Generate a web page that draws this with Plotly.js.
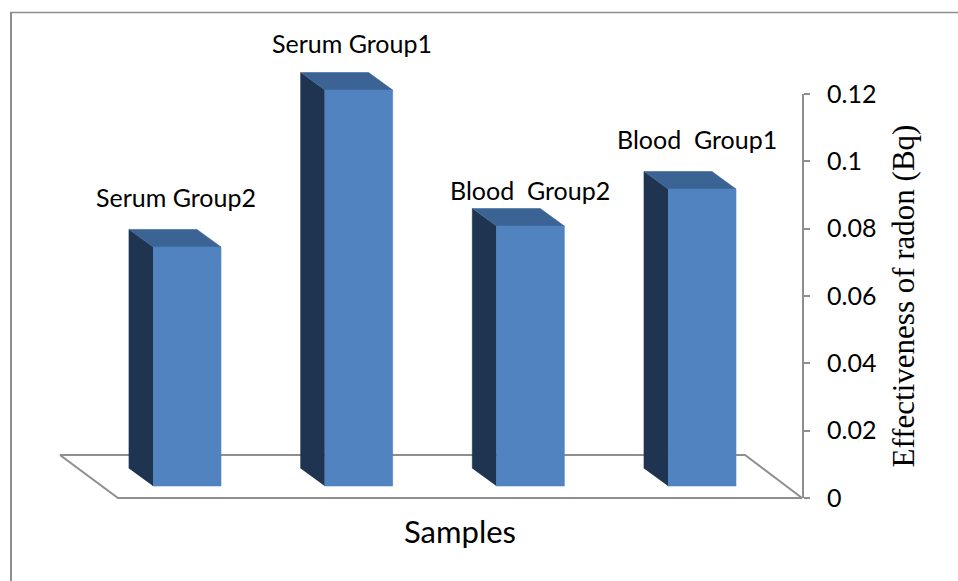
<!DOCTYPE html>
<html>
<head>
<meta charset="utf-8">
<script src="https://cdn.plot.ly/plotly-3.0.1.min.js"></script>
<style>
  html, body { margin: 0; padding: 0; background: #ffffff; }
  #chart { width: 958px; height: 581px; }
</style>
</head>
<body>
<div id="chart"></div>
<script>
// Radon effectiveness per sample group
const categories = ['Serum Group2', 'Serum Group1', 'Blood  Group2', 'Blood  Group1'];
const radonValues = [0.071, 0.1176, 0.0772, 0.0882];
const yTickVals = [0, 0.02, 0.04, 0.06, 0.08, 0.1, 0.12];
const yTickText = ['0', '0.02', '0.04', '0.06', '0.08', '0.1', '0.12'];

// Projection of the pseudo-3D columns (x in category units, y in value units)
const HALF_W = 0.198;      // half width of a column's front face
const DEPTH_X = 0.140;     // receding offset of the column depth
const DEPTH_Y = 0.0052;
const BASE_Y = 0.00356;    // column front base sits slightly behind the floor edge

const COLORS = { front: '#5083c0', side: '#1f3450', top: '#3b6495', floor: '#8e8e8e' };

const xs = categories.map((c, i) => i);

function facePath(pointsFn) {
  const px = [], py = [];
  xs.forEach((x, i) => {
    pointsFn(x, radonValues[i]).forEach(p => { px.push(p[0]); py.push(p[1]); });
    px.push(null); py.push(null);
  });
  return { px, py };
}

const sideFaces = facePath((x, v) => [
  [x - HALF_W, BASE_Y], [x - HALF_W, BASE_Y + v],
  [x - HALF_W - DEPTH_X, BASE_Y + v + DEPTH_Y], [x - HALF_W - DEPTH_X, BASE_Y + DEPTH_Y]
]);
const topFaces = facePath((x, v) => [
  [x - HALF_W, BASE_Y + v], [x + HALF_W, BASE_Y + v],
  [x + HALF_W - DEPTH_X, BASE_Y + v + DEPTH_Y], [x - HALF_W - DEPTH_X, BASE_Y + v + DEPTH_Y]
]);
const frontFaces = facePath((x, v) => [
  [x - HALF_W, BASE_Y], [x + HALF_W, BASE_Y],
  [x + HALF_W, BASE_Y + v], [x - HALF_W, BASE_Y + v]
]);

// Floor plane under the columns
const lastX = xs[xs.length - 1];
const floorFL = xs[0] - 0.402, floorFR = lastX + 0.5825;
const floorBL = xs[0] - 0.740, floorBR = lastX + 0.2504;
const floorDepthY = 0.01277;

function faceTrace(path, color) {
  return {
    type: 'scatter', mode: 'lines', x: path.px, y: path.py,
    fill: 'toself', fillcolor: color,
    line: { color: color, width: 0.6 },
    hoverinfo: 'skip', showlegend: false, xaxis: 'x', yaxis: 'y'
  };
}

const traces = [
  {
    type: 'scatter', mode: 'lines',
    x: [floorBL, floorBR, floorFR, floorFL, floorBL],
    y: [floorDepthY, floorDepthY, 0, 0, floorDepthY],
    fill: 'toself', fillcolor: '#ffffff',
    line: { color: COLORS.floor, width: 2 },
    hoverinfo: 'skip', showlegend: false
  },
  faceTrace(sideFaces, COLORS.side),
  faceTrace(topFaces, COLORS.top),
  faceTrace(frontFaces, COLORS.front),
  // carries the visible value axis
  { type: 'scatter', mode: 'markers', x: [null], y: [null], xaxis: 'x', yaxis: 'y2',
    hoverinfo: 'skip', showlegend: false }
];

const W = 958, H = 581;
const PX_PER_CAT = 171.67, CAT0_PX = 187;
const PX_PER_UNIT = 3366.7, ZERO_PX = 498;

const labelNudgeY = [32, 30, 19, 33];
const labelNudgeX = [1, 5, 12, 7];

const annotations = categories.map((c, i) => ({
  x: xs[i] - DEPTH_X / 2, y: BASE_Y + radonValues[i] + DEPTH_Y,
  xref: 'x', yref: 'y',
  text: c.replace(/  /g, ' \u00a0'),
  showarrow: false, xanchor: 'center', yanchor: 'middle',
  xshift: labelNudgeX[i], yshift: labelNudgeY[i],
  font: { family: 'Lato, sans-serif', size: 25, color: '#000000' }
}));
annotations.push({
  x: 459.5 / W, y: 1 - 531 / H, xref: 'paper', yref: 'paper',
  text: 'Samples', showarrow: false, xanchor: 'center', yanchor: 'middle',
  font: { family: 'Lato, sans-serif', size: 31, color: '#000000' }
});

const layout = {
  width: W, height: H,
  margin: { l: 0, r: 0, t: 0, b: 0, pad: 0 },
  paper_bgcolor: '#ffffff', plot_bgcolor: 'rgba(0,0,0,0)',
  showlegend: false, hovermode: false,
  xaxis: {
    range: [-CAT0_PX / PX_PER_CAT, (W - CAT0_PX) / PX_PER_CAT],
    visible: false, fixedrange: true
  },
  yaxis: {
    range: [-(H - ZERO_PX) / PX_PER_UNIT, ZERO_PX / PX_PER_UNIT],
    visible: false, fixedrange: true
  },
  yaxis2: {
    anchor: 'free', position: 803 / W, side: 'right',
    domain: [(H - ZERO_PX) / H, (H - ZERO_PX + 0.12 * PX_PER_UNIT) / H],
    range: [0, 0.12], fixedrange: true,
    showline: true, linecolor: COLORS.floor, linewidth: 2,
    ticks: 'outside', ticklen: 6, tickwidth: 2, tickcolor: COLORS.floor,
    ticklabelstandoff: 12,
    tickvals: yTickVals, ticktext: yTickText,
    tickfont: { family: 'Lato, sans-serif', size: 25, color: '#000000' },
    showgrid: false, zeroline: false,
    title: {
      text: 'Effectiveness of radon (Bq)', standoff: 16,
      font: { family: '"Liberation Serif", "Times New Roman", serif', size: 31, color: '#000000' }
    }
  },
  annotations: annotations,
  shapes: [
    { type: 'line', xref: 'paper', yref: 'paper', x0: 11 / W, x1: 11 / W, y0: 0, y1: 1 - 12 / H,
      line: { color: '#8e8e8e', width: 2 } },
    { type: 'line', xref: 'paper', yref: 'paper', x0: 10 / W, x1: 1, y0: 1 - 12.5 / H, y1: 1 - 12.5 / H,
      line: { color: '#8e8e8e', width: 1.5 } }
  ]
};

Plotly.newPlot('chart', traces, layout, { displayModeBar: false, staticPlot: true });
</script>
</body>
</html>
